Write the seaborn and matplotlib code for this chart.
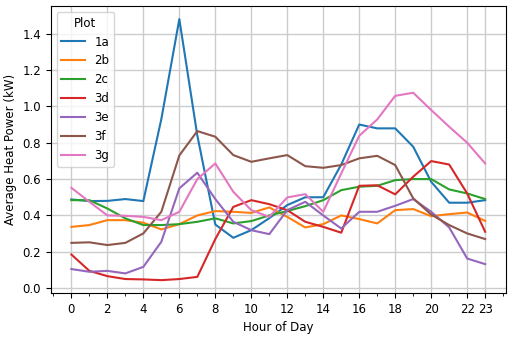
import numpy as np
import pandas as pd
import matplotlib
matplotlib.use("Agg")
import matplotlib.pyplot as plt
import seaborn as sns
from matplotlib.ticker import MultipleLocator

hours = list(range(24))
series_names = ["1a", "2b", "2c", "3d", "3e", "3f", "3g"]

s_1a = [0.488, 0.479, 0.48, 0.49, 0.479, 0.93, 1.48, 0.84, 0.35, 0.277, 0.319, 0.385,
        0.457, 0.50, 0.50, 0.68, 0.90, 0.879, 0.879, 0.778, 0.585, 0.47, 0.47, 0.484]
s_2b = [0.337, 0.347, 0.374, 0.374, 0.36, 0.323, 0.352, 0.40, 0.424, 0.42, 0.414, 0.444,
        0.392, 0.334, 0.352, 0.40, 0.38, 0.356, 0.429, 0.435, 0.396, 0.407, 0.416, 0.37]
s_2c = [0.484, 0.484, 0.438, 0.384, 0.347, 0.347, 0.352, 0.365, 0.384, 0.356, 0.369, 0.40,
        0.424, 0.451, 0.484, 0.539, 0.558, 0.563, 0.594, 0.60, 0.60, 0.543, 0.521, 0.49]
s_3d = [0.185, 0.095, 0.066, 0.05, 0.048, 0.044, 0.05, 0.062, 0.27, 0.447, 0.484, 0.462,
        0.429, 0.365, 0.337, 0.305, 0.563, 0.566, 0.516, 0.613, 0.699, 0.68, 0.521, 0.31]
s_3e = [0.105, 0.09, 0.095, 0.081, 0.117, 0.255, 0.549, 0.635, 0.49, 0.365, 0.319, 0.297,
        0.429, 0.475, 0.40, 0.328, 0.42, 0.42, 0.453, 0.49, 0.42, 0.334, 0.163, 0.132]
s_3f = [0.249, 0.252, 0.237, 0.249, 0.301, 0.42, 0.73, 0.864, 0.833, 0.732, 0.695, 0.714,
        0.732, 0.671, 0.662, 0.677, 0.714, 0.728, 0.677, 0.494, 0.405, 0.347, 0.301, 0.27]
s_3g = [0.552, 0.475, 0.40, 0.398, 0.392, 0.374, 0.42, 0.60, 0.686, 0.53, 0.429, 0.392,
        0.499, 0.517, 0.42, 0.631, 0.838, 0.928, 1.058, 1.075, 0.98, 0.888, 0.80, 0.686]

x_ticks = [0, 2, 4, 6, 8, 10, 12, 14, 16, 18, 20, 22, 23]

values = [s_1a, s_2b, s_2c, s_3d, s_3e, s_3f, s_3g]
df = pd.DataFrame({
    "Hour of Day": np.tile(hours, len(series_names)),
    "Average Heat Power (kW)": np.concatenate(values),
    "Plot": np.repeat(series_names, len(hours)),
})

plt.rcParams["font.family"] = ["DejaVu Sans"]
plt.rcParams["font.size"] = 8.5

fig = plt.figure(figsize=(5.12, 3.37), dpi=100)
ax = fig.add_axes([0.099, 0.13, 0.889, 0.852])
sns.lineplot(data=df, x="Hour of Day", y="Average Heat Power (kW)", hue="Plot",
             palette="tab10", linewidth=1.5, ax=ax)

ax.set_xticks(x_ticks)
ax.xaxis.set_minor_locator(MultipleLocator(1))
ax.yaxis.set_major_locator(MultipleLocator(0.2))
ax.grid(True, which="major", color="#cccccc", linewidth=1.0)
ax.set_axisbelow(True)
ax.tick_params(labelsize=8.5)
ax.legend(title="Plot", loc="upper left", fontsize=8.5, title_fontsize=8.5)

fig.savefig("out.png", dpi=100)
